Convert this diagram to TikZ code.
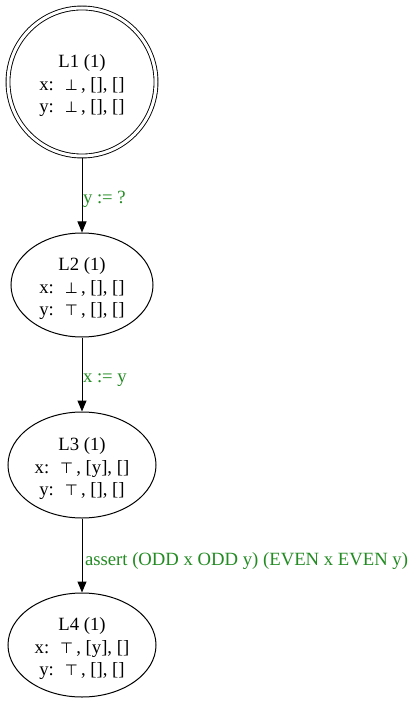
\documentclass[tikz,border=0pt]{standalone}
\usepackage{fontspec}
\setmainfont{Liberation Serif}
\newfontfamily\symf{DejaVu Sans}
\usetikzlibrary{arrows.meta,shapes.geometric}
\definecolor{lblgreen}{RGB}{34,139,34}
\newcommand{\bott}{{\symf\fontsize{15}{15}\selectfont ⊥}}
\newcommand{\topp}{{\symf\fontsize{15}{15}\selectfont ⊤}}
\newcommand{\lift}{\rule{0pt}{21pt}}
\begin{document}
\begin{tikzpicture}[x=1pt,y=1pt,
  txt/.style={align=center, font=\fontsize{18.7}{22.5}\selectfont},
  state/.style={txt, draw, ellipse, inner sep=0pt, line width=1pt},
  startstate/.style={txt, draw, circle, inner sep=0pt, minimum size=148pt, line width=0.9pt, double, double distance=3pt, outer sep=2.5pt},
  edge/.style={-{Triangle[length=11pt,width=9pt]}, line width=1pt},
  lbl/.style={font=\fontsize{18.7}{22}\selectfont, text=lblgreen, anchor=west, inner sep=0pt, xshift=0.5pt, yshift=-3.5pt}]
\useasboundingbox (0,0) rectangle (411,-708);
\node[startstate] (L1) at (82,-82) {\lift L1 (1)\\x: \ \bott\,, [], []\\y: \ \bott\,, [], []};
\node[state, minimum width=142pt, minimum height=104pt] (L2) at (82,-285) {\lift L2 (1)\\x: \ \bott\,, [], []\\y: \ \topp\,, [], []};
\node[state, minimum width=148pt, minimum height=106pt] (L3) at (82,-465) {\lift L3 (1)\\x: \ \topp\,, [y], []\\y: \ \topp\,, [], []};
\node[state, minimum width=148pt, minimum height=104pt] (L4) at (82,-645) {\lift L4 (1)\\x: \ \topp\,, [y], []\\y: \ \topp\,, [], []};
\draw[edge] (L1) -- node[lbl] {y := ?} (L2);
\draw[edge] (L2) -- node[lbl, yshift=-2pt] {x := y} (L3);
\draw[edge] (L3) -- node[lbl, yshift=-2pt, xshift=2pt] {assert (ODD x ODD y) (EVEN x EVEN y)} (L4);
\end{tikzpicture}
\end{document}
